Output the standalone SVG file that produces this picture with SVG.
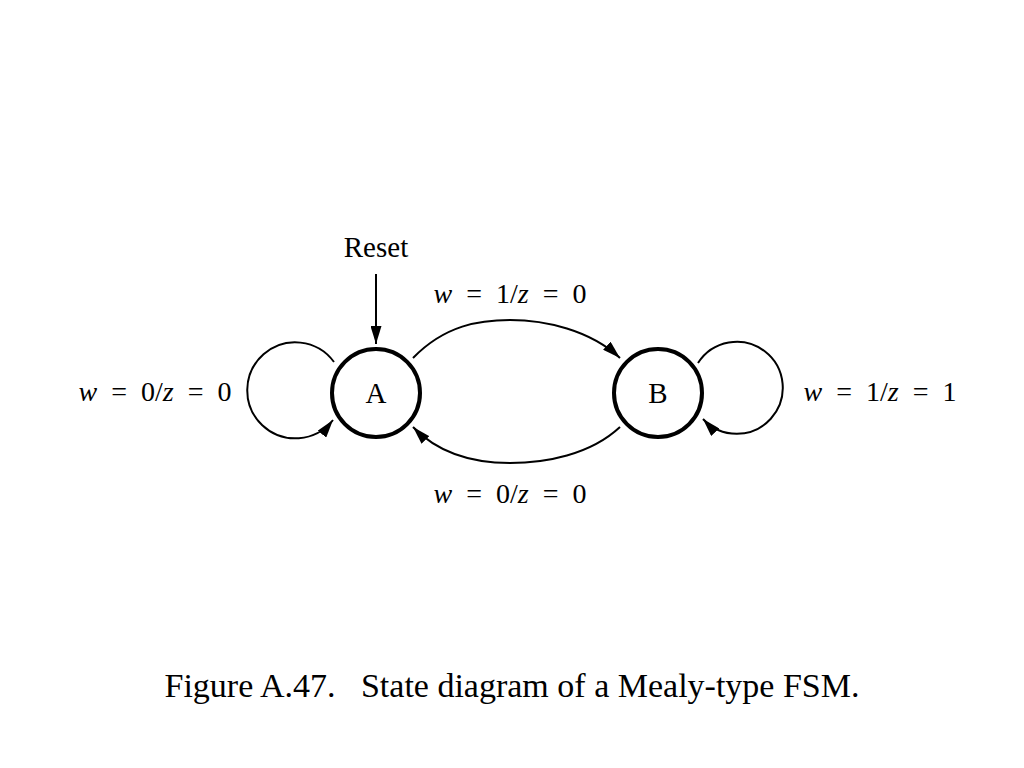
<svg xmlns="http://www.w3.org/2000/svg" width="1024" height="768" viewBox="0 0 1024 768">
<style>
text{font-family:"Liberation Serif","Times New Roman",serif;fill:#000}
.lbl{font-size:28px;word-spacing:7px}
.nd{font-size:29px}
.st{fill:#fff;stroke:#000;stroke-width:4}
.ln{fill:none;stroke:#000;stroke-width:2}
.i{font-style:italic}
</style>
<defs>
<marker id="ah" viewBox="0 0 18 11" refX="18" refY="5.5" markerWidth="18" markerHeight="11" markerUnits="userSpaceOnUse" orient="auto">
<path d="M0,0 L18,5.5 L0,11 Z" fill="#000"/>
</marker>
</defs>
<rect width="1024" height="768" fill="#fff"/>
<g id="connectors">
<line class="ln" x1="376" y1="274" x2="376" y2="344" marker-end="url(#ah)"/>
<path class="ln" d="M413,358 C445,325 480,320 510,320 C545,320 590,330 620,358" marker-end="url(#ah)"/>
<path class="ln" d="M620,427 C590,455 545,463 510,463 C475,463 440,455 413,427" marker-end="url(#ah)"/>
<path class="ln" d="M334,362 A48,48 0 1 0 333,420" marker-end="url(#ah)"/>
<path class="ln" d="M698,363 A46,46 0 1 1 703,419" marker-end="url(#ah)"/>
</g>
<g id="stateA">
<circle class="st" cx="376" cy="393" r="44"/>
<text class="nd" x="376" y="403" text-anchor="middle">A</text>
</g>
<g id="stateB">
<circle class="st" cx="658" cy="393" r="44"/>
<text class="nd" x="658" y="403" text-anchor="middle">B</text>
</g>
<g id="labels">
<text x="376" y="257" font-size="29" text-anchor="middle">Reset</text>
<text class="lbl" x="510" y="303" text-anchor="middle"><tspan class="i">w</tspan> = 1/<tspan class="i">z</tspan> = 0</text>
<text class="lbl" x="510" y="503" text-anchor="middle"><tspan class="i">w</tspan> = 0/<tspan class="i">z</tspan> = 0</text>
<text class="lbl" x="155" y="401" text-anchor="middle"><tspan class="i">w</tspan> = 0/<tspan class="i">z</tspan> = 0</text>
<text class="lbl" x="880" y="401" text-anchor="middle"><tspan class="i">w</tspan> = 1/<tspan class="i">z</tspan> = 1</text>
</g>
<text x="512" y="697" font-size="34" text-anchor="middle" xml:space="preserve">Figure A.47.   State diagram of a Mealy-type FSM.</text>
</svg>
